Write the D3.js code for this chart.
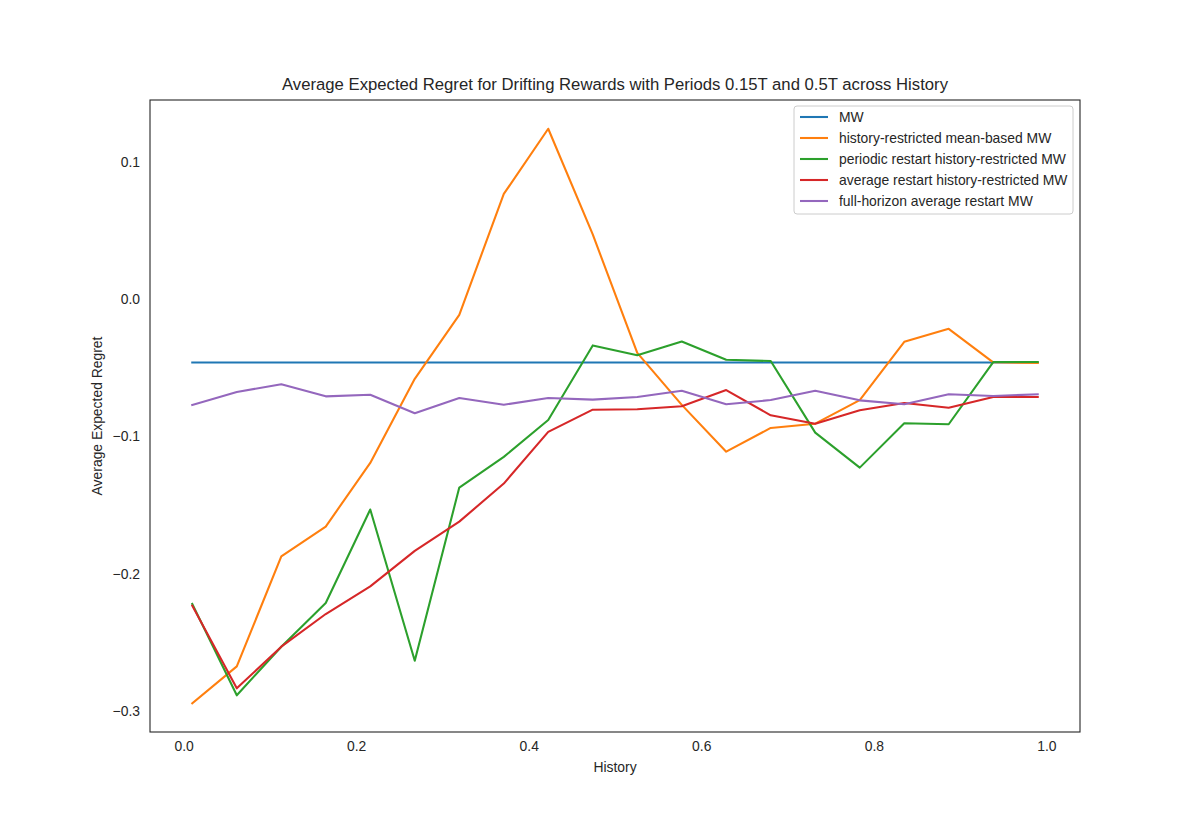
<!DOCTYPE html>
<html>
<head>
<meta charset="utf-8">
<script src="https://cdn.jsdelivr.net/npm/d3@7"></script>
<style>
  html, body { margin: 0; padding: 0; background: #fff; }
  svg { display: block; font-family: "Liberation Sans", Arial, sans-serif; }
</style>
</head>
<body>
<svg id="chart" width="1200" height="822"></svg>
<script>
// ---- data ----
const history = [0.01, 0.0616, 0.1132, 0.1647, 0.2163, 0.2679, 0.3195, 0.3711, 0.4226, 0.4742,
                 0.5258, 0.5774, 0.6289, 0.6805, 0.7321, 0.7837, 0.8353, 0.8868, 0.9384, 0.99];
const seriesNames = ["MW", "history-restricted mean-based MW", "periodic restart history-restricted MW",
                     "average restart history-restricted MW", "full-horizon average restart MW"];
const mw = [-0.0462, -0.0462, -0.0462, -0.0462, -0.0462, -0.0462, -0.0462, -0.0462, -0.0462, -0.0462,
            -0.0462, -0.0462, -0.0462, -0.0462, -0.0462, -0.0462, -0.0462, -0.0462, -0.0462, -0.0462];
const historyRestricted = [-0.2943, -0.2674, -0.1874, -0.1656, -0.1193, -0.0580, -0.0114, 0.0766, 0.1241, 0.0471,
                           -0.0391, -0.0770, -0.1111, -0.0938, -0.0907, -0.0735, -0.0311, -0.0216, -0.0460, -0.0465];
const periodicRestart = [-0.2220, -0.2885, -0.2531, -0.2213, -0.1532, -0.2633, -0.1372, -0.1149, -0.0880, -0.0337,
                         -0.0409, -0.0308, -0.0441, -0.0451, -0.0972, -0.1227, -0.0904, -0.0911, -0.0458, -0.0458];
const averageRestart = [-0.2233, -0.2834, -0.2531, -0.2293, -0.2092, -0.1833, -0.1620, -0.1343, -0.0967, -0.0805,
                        -0.0802, -0.0780, -0.0662, -0.0846, -0.0907, -0.0809, -0.0756, -0.0791, -0.0713, -0.0713];
const fullHorizon = [-0.0771, -0.0676, -0.0620, -0.0708, -0.0696, -0.0831, -0.0720, -0.0769, -0.0720, -0.0732,
                     -0.0713, -0.0667, -0.0766, -0.0735, -0.0667, -0.0737, -0.0766, -0.0693, -0.0705, -0.0693];
const colors = ["#1f77b4", "#ff7f0e", "#2ca02c", "#d62728", "#9467bd"];
const xTicks = [0.0, 0.2, 0.4, 0.6, 0.8, 1.0];
const yTicks = [-0.3, -0.2, -0.1, 0.0, 0.1];

// ---- layout ----
const svg = d3.select("#chart");
const L = 150, R = 1080, T = 100, B = 732;
const allVals = [mw, historyRestricted, periodicRestart, averageRestart, fullHorizon];
const flat = allVals.flat();
const xmin = d3.min(history), xmax = d3.max(history);
const xm = (xmax - xmin) * 0.05;
const ymin = d3.min(flat), ymax = d3.max(flat);
const ym = (ymax - ymin) * 0.05;
const x = d3.scaleLinear().domain([xmin - xm, xmax + xm]).range([L, R]);
const y = d3.scaleLinear().domain([ymin - ym, ymax + ym]).range([B, T]);

const textColor = "#262626";
const fmt = v => (v < 0 ? "\u2212" : "") + Math.abs(v).toFixed(1);

// axes
const xAxis = d3.axisBottom(x).tickValues(xTicks).tickSize(0).tickPadding(9).tickFormat(fmt);
const yAxis = d3.axisLeft(y).tickValues(yTicks).tickSize(0).tickPadding(10).tickFormat(fmt);
const gx = svg.append("g").attr("transform", `translate(0,${B})`).call(xAxis);
const gy = svg.append("g").attr("transform", `translate(${L},0)`).call(yAxis);
[gx, gy].forEach(g => {
  g.select(".domain").remove();
  g.selectAll("text").attr("fill", textColor).style("font-size", "13.9px")
    .style("font-family", "'Liberation Sans', Arial, sans-serif");
});

// lines
const line = d3.line().x((d, i) => x(history[i])).y(d => y(d));
const plot = svg.append("g");
allVals.forEach((vals, k) => {
  plot.append("path").datum(vals).attr("d", line)
    .attr("fill", "none").attr("stroke", colors[k]).attr("stroke-width", 2.08)
    .attr("stroke-linejoin", "round").attr("stroke-linecap", "square");
});

// frame
svg.append("rect").attr("x", L).attr("y", T).attr("width", R - L).attr("height", B - T)
  .attr("fill", "none").attr("stroke", textColor).attr("stroke-width", 1.1);

// title & labels
svg.append("text").attr("x", (L + R) / 2).attr("y", 90).attr("text-anchor", "middle")
  .attr("fill", textColor).style("font-size", "16.7px").text("Average Expected Regret for Drifting Rewards with Periods 0.15T and 0.5T across History");
svg.append("text").attr("x", (L + R) / 2).attr("y", 772).attr("text-anchor", "middle")
  .attr("fill", textColor).style("font-size", "13.9px").text("History");
svg.append("text").attr("transform", `translate(102,${(T + B) / 2}) rotate(-90)`).attr("text-anchor", "middle")
  .attr("fill", textColor).style("font-size", "13.9px").text("Average Expected Regret");

// legend
const lg = svg.append("g").attr("transform", "translate(794,106)");
lg.append("rect").attr("x", 0).attr("y", 0).attr("width", 279).attr("height", 108)
  .attr("rx", 3).attr("fill", "#fff").attr("fill-opacity", 0.8).attr("stroke", "#cccccc").attr("stroke-width", 1);
seriesNames.forEach((name, k) => {
  const yy = 11 + k * 21;
  lg.append("line").attr("x1", 6).attr("x2", 34).attr("y1", yy).attr("y2", yy)
    .attr("stroke", colors[k]).attr("stroke-width", 2.08);
  lg.append("text").attr("x", 45).attr("y", yy + 5).attr("fill", textColor)
    .style("font-size", "13.9px").text(name);
});
</script>
</body>
</html>
